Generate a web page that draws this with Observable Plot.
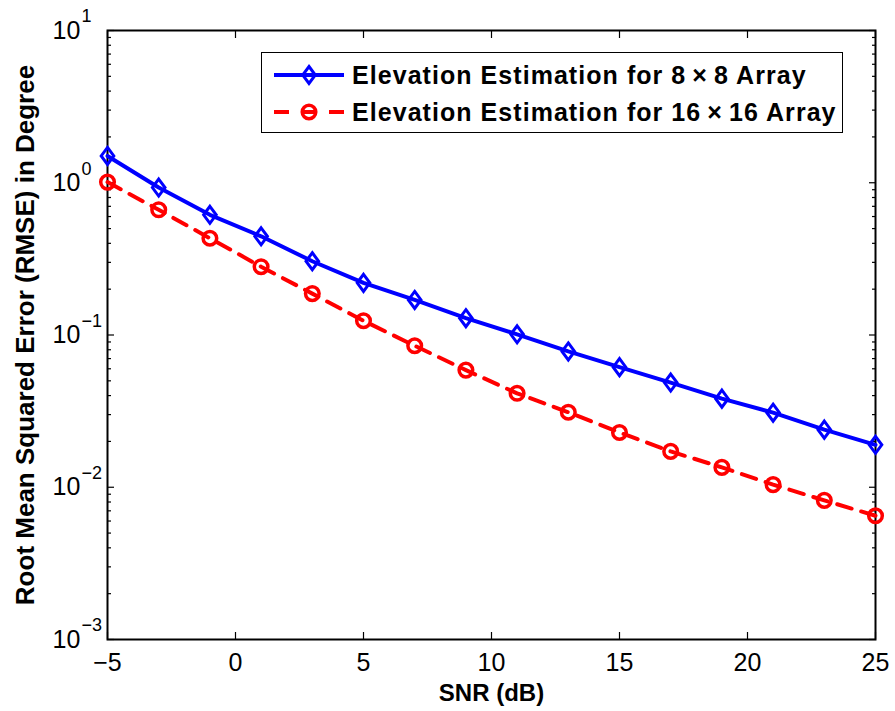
<!DOCTYPE html>
<html>
<head>
<meta charset="utf-8">
<script src="https://cdn.jsdelivr.net/npm/d3@7"></script>
<script src="https://cdn.jsdelivr.net/npm/@observablehq/plot@0.6"></script>
<style>
  html, body { margin: 0; padding: 0; background: #fff; }
  #wrap { position: relative; width: 895px; height: 711px; font-family: "Liberation Sans", Arial, Helvetica, sans-serif; }
  #legend { position: absolute; left: 261px; top: 52px; width: 580px; height: 79px; border: 1.5px solid #000; background: #fff; box-sizing: content-box; }
  .row { position: absolute; left: 0; height: 30px; display: flex; align-items: center; }
  .row svg { margin-left: 12px; }
  .row span { margin-left: 8px; font-weight: bold; font-size: 25px; letter-spacing: 1.05px; color: #000; white-space: nowrap; }
</style>
</head>
<body>
<div id="wrap"></div>
<script>
// ---- data ----
const snr = [-5, -3, -1, 1, 3, 5, 7, 9, 11, 13, 15, 17, 19, 21, 23, 25];
const rmse8x8 = [1.50, 0.93, 0.616, 0.445, 0.305, 0.220, 0.170, 0.129, 0.101, 0.078, 0.0615, 0.0487, 0.0382, 0.0309, 0.0239, 0.0190];
const rmse16x16 = [1.01, 0.664, 0.432, 0.281, 0.187, 0.124, 0.085, 0.0588, 0.0414, 0.0311, 0.0229, 0.0172, 0.0135, 0.0104, 0.0082, 0.0065];
const seriesNames = ["Elevation Estimation for 8\u2009\u00d7\u20098 Array", "Elevation Estimation for 16\u2009\u00d7\u200916 Array"];
const xTicks = [-5, 0, 5, 10, 15, 20, 25];
const yMajor = [1e-3, 1e-2, 1e-1, 1, 10];
const yMinor = [];
for (const m of [1e-3, 1e-2, 1e-1, 1]) for (let k = 2; k <= 9; k++) yMinor.push(+(m * k).toPrecision(3));

const d8 = snr.map((x, i) => ({x, y: rmse8x8[i]}));
const d16 = snr.map((x, i) => ({x, y: rmse16x16[i]}));

const diamond = {
  draw(ctx) {
    ctx.moveTo(0, -8.5); ctx.lineTo(6.3, 0); ctx.lineTo(0, 8.5); ctx.lineTo(-6.3, 0); ctx.closePath();
  }
};
const fmtMinus = v => v < 0 ? "\u2212" + (-v) : String(v);

const chart = Plot.plot({
  width: 895,
  height: 711,
  marginLeft: 107,
  marginRight: 20,
  marginTop: 30,
  marginBottom: 72,
  style: {fontFamily: "'Liberation Sans', Arial, Helvetica, sans-serif", background: "#fff", color: "#000"},
  x: {domain: [-5, 25]},
  y: {type: "log", domain: [1e-3, 10]},
  marks: [
    // inward ticks on all four sides
    Plot.axisX({anchor: "bottom", ticks: xTicks, tickSize: -7, text: null, label: null, strokeWidth: 1.2}),
    Plot.axisX({anchor: "top", ticks: xTicks, tickSize: -7, text: null, label: null, strokeWidth: 1.2}),
    Plot.axisY({anchor: "left", ticks: yMajor, tickSize: -7, text: null, label: null, strokeWidth: 1.2}),
    Plot.axisY({anchor: "right", ticks: yMajor, tickSize: -7, text: null, label: null, strokeWidth: 1.2}),
    Plot.axisY({anchor: "left", ticks: yMinor, tickSize: -4, text: null, label: null, strokeWidth: 1.2}),
    Plot.axisY({anchor: "right", ticks: yMinor, tickSize: -4, text: null, label: null, strokeWidth: 1.2}),
    // x tick labels
    Plot.axisX({anchor: "bottom", ticks: xTicks, tickSize: 0, tickPadding: 14, fontSize: 25, tickFormat: fmtMinus, label: null}),
    // y tick labels as 10^k
    Plot.text(yMajor, {y: d => d, frameAnchor: "left", text: () => "10", textAnchor: "start", lineAnchor: "middle", dx: -55, fontSize: 25}),
    Plot.text(yMajor, {y: d => d, frameAnchor: "left", text: d => fmtMinus(Math.round(Math.log10(d))), textAnchor: "start", lineAnchor: "middle", dx: -26, dy: -14, fontSize: 18}),
    // axis titles
    Plot.text(["SNR (dB)"], {frameAnchor: "bottom", text: d => d, textAnchor: "middle", lineAnchor: "top", dy: 44, fontSize: 24, fontWeight: "bold", letterSpacing: "1.2px"}),
    Plot.text(["Root Mean Squared Error (RMSE) in Degree"], {frameAnchor: "left", text: d => d, rotate: -90, textAnchor: "middle", lineAnchor: "bottom", dx: -74, fontSize: 26, fontWeight: "bold", letterSpacing: "0.4px"}),
    Plot.frame({stroke: "#000", strokeWidth: 2}),
    // data
    Plot.line(d8, {x: "x", y: "y", stroke: "#0000ff", strokeWidth: 4}),
    Plot.dot(d8, {x: "x", y: "y", symbol: diamond, stroke: "#0000ff", strokeWidth: 3, fill: "none"}),
    Plot.line(d16, {x: "x", y: "y", stroke: "#ff0000", strokeWidth: 4, strokeDasharray: "15,10"}),
    Plot.dot(d16, {x: "x", y: "y", r: 6.8, stroke: "#ff0000", strokeWidth: 3.5, fill: "none"})
  ]
});

const wrap = document.getElementById("wrap");
wrap.appendChild(chart);

// legend
const legend = document.createElement("div");
legend.id = "legend";
const rows = [
  {top: 7, color: "#0000ff", dash: null, marker: "diamond", name: seriesNames[0]},
  {top: 44, color: "#ff0000", dash: "15,12.5", marker: "circle", name: seriesNames[1]}
];
for (const r of rows) {
  const row = document.createElement("div");
  row.className = "row";
  row.style.top = r.top + "px";
  const s = d3.create("svg").attr("width", 70).attr("height", 30);
  s.append("line").attr("x1", 0).attr("x2", 70).attr("y1", 15).attr("y2", 15)
    .attr("stroke", r.color).attr("stroke-width", 4)
    .attr("stroke-dasharray", r.dash);
  if (r.marker === "diamond") {
    s.append("path").attr("d", "M35,6.5L41.3,15L35,23.5L28.7,15Z").attr("fill", "none").attr("stroke", r.color).attr("stroke-width", 3);
  } else {
    s.append("circle").attr("cx", 35).attr("cy", 15).attr("r", 6.8).attr("fill", "none").attr("stroke", r.color).attr("stroke-width", 3.5);
  }
  row.appendChild(s.node());
  const t = document.createElement("span");
  t.textContent = r.name;
  row.appendChild(t);
  legend.appendChild(row);
}
wrap.appendChild(legend);
</script>
</body>
</html>
